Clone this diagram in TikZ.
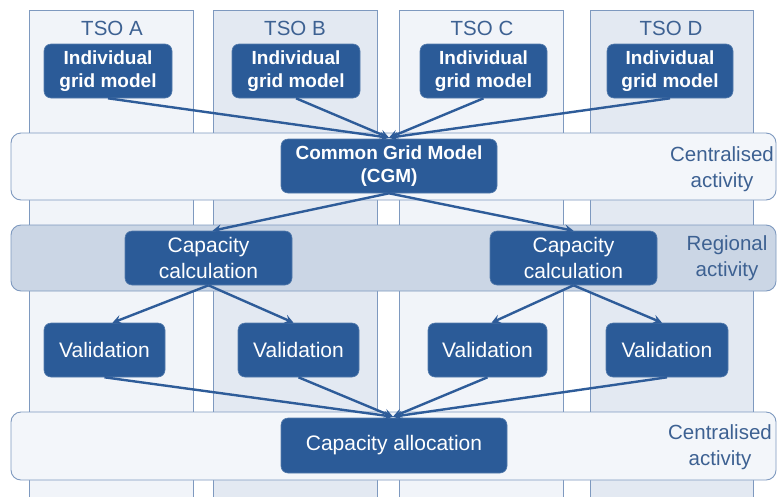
\documentclass[tikz,border=0pt]{standalone}
\usepackage{fontspec}
\setmainfont{Liberation Sans}
\usetikzlibrary{arrows.meta,calc}
\definecolor{boxblue}{HTML}{2B5B98}
\definecolor{lineblue}{HTML}{2E5C99}
\definecolor{edgeblue}{HTML}{7E99BF}
\definecolor{collight}{HTML}{F1F4F9}
\definecolor{coldark}{HTML}{E3E9F2}
\definecolor{centralfill}{HTML}{F3F6FA}
\definecolor{regionfill}{HTML}{CBD6E5}
\definecolor{labelblue}{HTML}{3D6192}
\tikzset{
  colbox/.style={draw=edgeblue, line width=0.9pt},
  band/.style={draw=edgeblue, line width=0.9pt, rounded corners=10pt},
  bluebox/.style={fill=boxblue, draw=boxblue!80!white, line width=0.6pt, rounded corners=7pt,
    text=white, align=center, inner sep=0pt, minimum height=54pt},
  boldtext/.style={font=\fontsize{19}{23}\selectfont\bfseries},
  regtext/.style={font=\fontsize{21}{25.5}\selectfont},
  lbl/.style={text=labelblue, align=center, font=\fontsize{20.5}{26}\selectfont, inner sep=0pt},
  arr/.style={draw=lineblue, line width=2.4pt, -{Stealth[length=9pt,width=9pt,inset=3.5pt]}}
}
\begin{document}
\begin{tikzpicture}[x=1pt,y=-1pt]
\clip (0,0) rectangle (778,496);
\fill[white] (0,0) rectangle (778,496);
% columns
\draw[colbox, fill=collight] (29,10) rectangle (193,520);
\draw[colbox, fill=coldark] (213,10) rectangle (377,520);
\draw[colbox, fill=collight] (399,10) rectangle (563,520);
\draw[colbox, fill=coldark] (590,10) rectangle (753,520);
% bands
\draw[band, fill=centralfill] (11,133) rectangle (776,200);
\draw[band, fill=regionfill] (11,225) rectangle (776,291);
\draw[band, fill=centralfill] (11,412) rectangle (776,480);
% column titles
\node[lbl] (tA) at (112,28) {TSO A};
\node[lbl] (tB) at (295,28) {TSO B};
\node[lbl] (tC) at (482,28) {TSO C};
\node[lbl] (tD) at (671,28) {TSO D};
% band labels
\node[lbl] (c1) at (722,169) {Centralised\\activity};
\node[lbl] (r1) at (727,258) {Regional\\activity};
\node[lbl] (c2) at (720,447) {Centralised\\activity};
% individual grid models
\node[bluebox, boldtext, minimum width=128pt] (iA) at (108,71) {Individual\\grid model};
\node[bluebox, boldtext, minimum width=128pt] (iB) at (296,71) {Individual\\grid model};
\node[bluebox, boldtext, minimum width=127pt] (iC) at (483.5,71) {Individual\\grid model};
\node[bluebox, boldtext, minimum width=126pt] (iD) at (670,71) {Individual\\grid model};
% CGM
\node[bluebox, boldtext, minimum width=216pt] (cgm) at (389,166) {Common Grid Model\\(CGM)};
% capacity calculation
\node[bluebox, regtext, minimum width=167pt] (ccL) at (208.5,258) {Capacity\\calculation};
\node[bluebox, regtext, minimum width=167pt] (ccR) at (573.5,258) {Capacity\\calculation};
% validation
\node[bluebox, regtext, minimum width=121pt] (vA) at (104.5,350) {Validation};
\node[bluebox, regtext, minimum width=121pt] (vB) at (298.5,350) {Validation};
\node[bluebox, regtext, minimum width=119pt] (vC) at (487.5,350) {Validation};
\node[bluebox, regtext, minimum width=122pt] (vD) at (667,350) {Validation};
% capacity allocation
\node[bluebox, regtext, minimum width=226pt, minimum height=55pt] (alloc) at (394,445.5) {Capacity allocation};
% arrows
\coordinate (cgmin) at ($(cgm.north)+(0,-1)$);
\draw[arr] (iA.south) -- (cgmin);
\draw[arr] (iB.south) -- (cgmin);
\draw[arr] (iC.south) -- (cgmin);
\draw[arr] (iD.south) -- (cgmin);
\draw[arr] (cgm.south) -- ($(ccL.north)+(4,0)$);
\draw[arr] (cgm.south) -- (ccR.north);
\draw[arr] (ccL.south) -- ($(vA.north)+(8,0)$);
\draw[arr] (ccL.south) -- ($(vB.north)+(-5,0)$);
\draw[arr] (ccR.south) -- ($(vC.north)+(4,0)$);
\draw[arr] (ccR.south) -- ($(vD.north)+(-5,0)$);
\coordinate (allocin) at ($(alloc.north)+(-1,-1)$);
\draw[arr] (vA.south) -- (allocin);
\draw[arr] (vB.south) -- (allocin);
\draw[arr] (vC.south) -- (allocin);
\draw[arr] (vD.south) -- (allocin);
\end{tikzpicture}
\end{document}
